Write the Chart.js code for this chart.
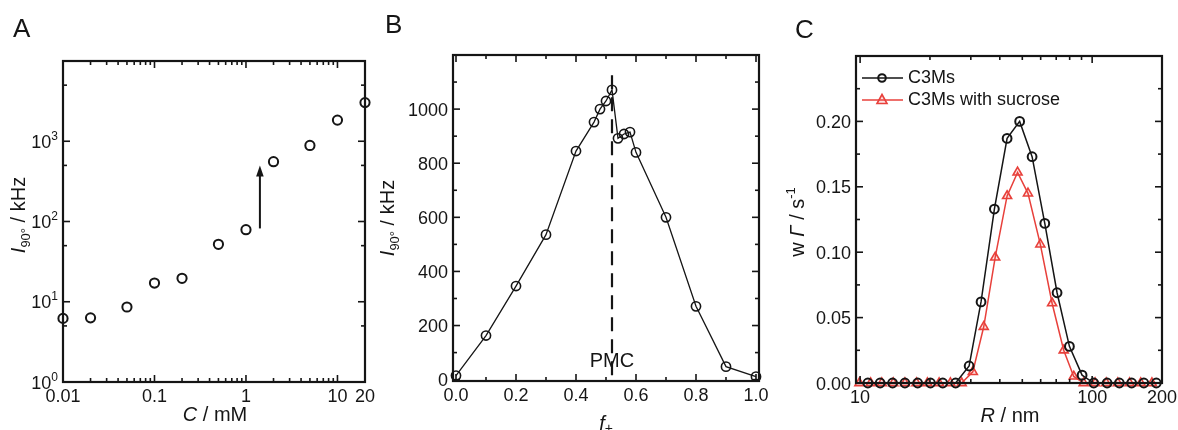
<!DOCTYPE html>
<html>
<head>
<meta charset="utf-8">
<script src="https://cdn.jsdelivr.net/npm/chart.js@4.4.0/dist/chart.umd.min.js"></script>
<style>
  html, body { margin: 0; padding: 0; background: #fff; }
  #wrap { position: relative; width: 1178px; height: 430px; overflow: hidden; }
  #wrap canvas { position: absolute; top: 0; }
</style>
</head>
<body>
<div id="wrap">
  <canvas id="chartA" width="380" height="430" style="left:0"></canvas>
  <canvas id="chartB" width="390" height="430" style="left:380px"></canvas>
  <canvas id="chartC" width="408" height="430" style="left:770px"></canvas>
</div>
<script>
// ---- panel A : scattering intensity vs concentration (log-log)
const concA = [0.01, 0.02, 0.05, 0.1, 0.2, 0.5, 1, 2, 5, 10, 20];
const intensityA = [6.2, 6.3, 8.6, 17.1, 19.6, 52, 79, 556, 887, 1834, 3030];
const xTickValsA = [0.01, 0.1, 1, 10, 20];
const xTickLabelsA = ['0.01', '0.1', '1', '10', '20'];
const yTickValsA = [1, 10, 100, 1000];
const yTickExpA = ['0', '1', '2', '3'];

// ---- panel B : intensity vs f+
const fracB = [0, 0.1, 0.2, 0.3, 0.4, 0.46, 0.48, 0.5, 0.52, 0.54, 0.56, 0.58, 0.6, 0.7, 0.8, 0.9, 1.0];
const intensityB = [15, 163, 346, 536, 845, 952, 1000, 1030, 1071, 892, 908, 915, 840, 600, 271, 48, 11];
const pmcB = 0.52;
const xTickLabelsB = ['0.0', '0.2', '0.4', '0.6', '0.8', '1.0'];
const yTickLabelsB = ['0', '200', '400', '600', '800', '1000'];

// ---- panel C : size distributions
const radiusC3M = [10.8, 12.2, 13.8, 15.6, 17.7, 20.1, 22.7, 25.8, 29.5, 33.2, 37.9, 43.0,
                   48.7, 55.1, 62.5, 70.6, 79.8, 90.5, 101.6, 116, 131, 148, 167, 189];
const weightC3M = [0, 0, 0, 0, 0, 0, 0, 0, 0.013, 0.062, 0.133, 0.187,
                   0.200, 0.173, 0.122, 0.069, 0.028, 0.006, 0, 0, 0, 0, 0, 0];
const radiusSucrose = [9.93, 11.1, 12.4, 13.9, 15.6, 17.5, 19.5, 21.9, 24.5, 27.4, 30.6, 34.1,
                       38.2, 43.0, 47.7, 52.9, 59.8, 67.2, 75.4, 83.3, 91.9, 103, 115, 129, 145, 162, 181];
const weightSucrose = [0, 0, 0, 0, 0, 0, 0, 0, 0, 0, 0.0085, 0.043,
                       0.096, 0.143, 0.161, 0.145, 0.106, 0.061, 0.025, 0.005, 0, 0, 0, 0, 0, 0, 0];
const xTickValsC = [10, 100, 200];
const xTickLabelsC = ['10', '100', '200'];
const yTickLabelsC = ['0.00', '0.05', '0.10', '0.15', '0.20'];
const seriesNamesC = ['C3Ms', 'C3Ms with sucrose'];

const INK = '#151515';
const RED = '#e8403b';
const FAM = '"Liberation Sans", Arial, Helvetica, sans-serif';
const fnt = (size, style) => (style ? style + ' ' : '') + size + 'px ' + FAM;
const TICK = fnt(18);

const pts = (xs, ys) => xs.map((x, i) => ({ x: x, y: ys[i] }));

function rich(ctx, parts, x, y, align) {
  let w = 0;
  parts.forEach(p => { ctx.font = p.f; w += ctx.measureText(p.t).width; });
  let cx = align === 'center' ? x - w / 2 : align === 'right' ? x - w : x;
  parts.forEach(p => {
    ctx.font = p.f;
    ctx.fillText(p.t, cx, y + (p.dy || 0));
    cx += ctx.measureText(p.t).width;
  });
}

function minorLog(decades, extra) {
  const out = [];
  decades.forEach(d => { for (let k = 2; k <= 9; k++) out.push(k * d); });
  return out.concat(extra || []);
}
function steps(from, to, step) {
  const out = [];
  for (let v = from; v <= to + 1e-9; v += step) out.push(+v.toFixed(4));
  return out;
}

function makeFrame(cfg) {
  return {
    id: 'frame' + cfg.name,
    afterDatasetsDraw(chart) {
      const ctx = chart.ctx, a = chart.chartArea, sx = chart.scales.x, sy = chart.scales.y;
      ctx.save();
      ctx.strokeStyle = INK;
      ctx.fillStyle = INK;
      const seg = (x1, y1, x2, y2) => { ctx.beginPath(); ctx.moveTo(x1, y1); ctx.lineTo(x2, y2); ctx.stroke(); };
      ctx.lineWidth = 1.6;
      const xt = (vals, len) => vals.forEach(v => {
        const p = sx.getPixelForValue(v);
        seg(p, a.bottom, p, a.bottom - len); seg(p, a.top, p, a.top + len);
      });
      const yt = (vals, len) => vals.forEach(v => {
        const p = sy.getPixelForValue(v);
        seg(a.left, p, a.left + len, p); seg(a.right, p, a.right - len, p);
      });
      xt(cfg.xMajor, 7); xt(cfg.xMinor, 4);
      yt(cfg.yMajor, 7); yt(cfg.yMinor, 4);
      ctx.lineWidth = 2.2;
      ctx.strokeRect(a.left, a.top, a.right - a.left, a.bottom - a.top);

      ctx.textBaseline = 'alphabetic';
      cfg.xLabels.forEach((parts, i) => rich(ctx, parts, sx.getPixelForValue(cfg.xLabelAt[i]), a.bottom + 20, 'center'));
      cfg.yLabels.forEach((parts, i) => rich(ctx, parts, a.left - 5, sy.getPixelForValue(cfg.yLabelAt[i]) + 6.5, 'right'));

      rich(ctx, cfg.xTitle.parts, cfg.xTitle.x, cfg.xTitle.y, 'center');
      ctx.save();
      ctx.translate(cfg.yTitle.x, cfg.yTitle.y);
      ctx.rotate(-Math.PI / 2);
      rich(ctx, cfg.yTitle.parts, 0, 0, 'center');
      ctx.restore();
      rich(ctx, [{ t: cfg.letter.t, f: fnt(26) }], cfg.letter.x, cfg.letter.y, 'left');

      if (cfg.extra) cfg.extra(chart, ctx, seg);
      ctx.restore();
    }
  };
}

const baseOpts = (padding, yWidth, xHeight) => ({
  responsive: false,
  animation: false,
  events: [],
  layout: { padding: padding },
  plugins: { legend: { display: false }, tooltip: { enabled: false } },
  scales: {}
});
const hiddenAxis = (extra, fit) => Object.assign({
  ticks: { display: false }, grid: { display: false }, border: { display: false },
  afterFit: fit
}, extra);

// ---------- Chart A
const optsA = baseOpts({ top: 61, right: 15, left: 0, bottom: 0 });
optsA.scales.x = hiddenAxis({ type: 'logarithmic', min: 0.01, max: 20 }, s => { s.height = 48; });
optsA.scales.y = hiddenAxis({ type: 'logarithmic', min: 1, max: 10000 }, s => { s.width = 63; });
new Chart(document.getElementById('chartA'), {
  type: 'scatter',
  data: { datasets: [{
    data: pts(concA, intensityA), showLine: false, clip: false,
    pointStyle: 'circle', pointRadius: 4.6, pointBorderWidth: 2,
    pointBorderColor: INK, pointBackgroundColor: 'rgba(0,0,0,0)'
  }] },
  options: optsA,
  plugins: [makeFrame({
    name: 'A',
    xMajor: [0.01, 0.1, 1, 10], xMinor: minorLog([0.01, 0.1, 1], [20]),
    yMajor: [1, 10, 100, 1000, 10000], yMinor: [5, 50, 500, 5000],
    xLabels: xTickLabelsA.map(t => [{ t: t, f: TICK }]), xLabelAt: xTickValsA,
    yLabels: yTickExpA.map(e => [{ t: '10', f: TICK }, { t: e, f: fnt(12), dy: -8 }]), yLabelAt: yTickValsA,
    xTitle: { parts: [{ t: 'C', f: fnt(20, 'italic') }, { t: ' / mM', f: fnt(20) }], x: 215, y: 421 },
    yTitle: { parts: [{ t: 'I', f: fnt(20, 'italic') }, { t: '90°', f: fnt(13), dy: 5 }, { t: ' / kHz', f: fnt(20) }], x: 25, y: 215 },
    letter: { t: 'A', x: 13, y: 37 },
    extra(chart, ctx, seg) {
      const sx = chart.scales.x, sy = chart.scales.y;
      const ax = sx.getPixelForValue(1.42), y0 = sy.getPixelForValue(82), y1 = sy.getPixelForValue(500);
      ctx.lineWidth = 2;
      seg(ax, y0, ax, y1 + 8);
      ctx.beginPath();
      ctx.moveTo(ax, y1); ctx.lineTo(ax - 3.8, y1 + 11); ctx.lineTo(ax + 3.8, y1 + 11); ctx.closePath();
      ctx.fill();
    }
  })]
});

// ---------- Chart B
const optsB = baseOpts({ top: 55, right: 11, left: 0, bottom: 0 });
optsB.scales.x = hiddenAxis({ type: 'linear', min: -0.01, max: 1.01 }, s => { s.height = 49; });
optsB.scales.y = hiddenAxis({ type: 'linear', min: -5, max: 1200 }, s => { s.width = 73; });
new Chart(document.getElementById('chartB'), {
  type: 'line',
  data: { datasets: [{
    data: pts(fracB, intensityB), clip: false, tension: 0,
    borderColor: INK, borderWidth: 1.3,
    pointStyle: 'circle', pointRadius: 4.6, pointBorderWidth: 1.6,
    pointBorderColor: INK, pointBackgroundColor: 'rgba(0,0,0,0)'
  }] },
  options: optsB,
  plugins: [makeFrame({
    name: 'B',
    xMajor: steps(0, 1, 0.2), xMinor: steps(0.1, 0.9, 0.2),
    yMajor: steps(0, 1200, 200), yMinor: steps(100, 1100, 200),
    xLabels: xTickLabelsB.map(t => [{ t: t, f: TICK }]), xLabelAt: xTickLabelsB.map(Number),
    yLabels: yTickLabelsB.map(t => [{ t: t, f: TICK }]), yLabelAt: yTickLabelsB.map(Number),
    xTitle: { parts: [{ t: 'f', f: fnt(20, 'italic') }, { t: '+', f: fnt(14), dy: 3 }], x: 226, y: 430 },
    yTitle: { parts: [{ t: 'I', f: fnt(20, 'italic') }, { t: '90°', f: fnt(13), dy: 5 }, { t: ' / kHz', f: fnt(20) }], x: 14, y: 218 },
    letter: { t: 'B', x: 5, y: 33 },
    extra(chart, ctx, seg) {
      const sx = chart.scales.x, sy = chart.scales.y;
      const px = sx.getPixelForValue(pmcB);
      ctx.lineWidth = 2.2;
      ctx.setLineDash([14, 8]);
      seg(px, sy.getPixelForValue(1125), px, sy.getPixelForValue(0));
      ctx.setLineDash([]);
      ctx.textBaseline = 'middle';
      rich(ctx, [{ t: 'PMC', f: fnt(20) }], px, sy.getPixelForValue(68), 'center');
    }
  })]
});

// ---------- Chart C
const optsC = baseOpts({ top: 56, right: 16, left: 0, bottom: 0 });
optsC.scales.x = hiddenAxis({ type: 'logarithmic', min: 9.6, max: 200 }, s => { s.height = 47; });
optsC.scales.y = hiddenAxis({ type: 'linear', min: 0, max: 0.25 }, s => { s.width = 86; });
new Chart(document.getElementById('chartC'), {
  type: 'line',
  data: { datasets: [
    { label: seriesNamesC[0], data: pts(radiusC3M, weightC3M), clip: false, tension: 0,
      borderColor: INK, borderWidth: 1.5, pointStyle: 'circle', pointRadius: 4.4, pointBorderWidth: 2,
      pointBorderColor: INK, pointBackgroundColor: 'rgba(0,0,0,0)' },
    { label: seriesNamesC[1], data: pts(radiusSucrose, weightSucrose), clip: false, tension: 0,
      borderColor: RED, borderWidth: 1.5, pointStyle: 'triangle', pointRadius: 5.2, pointBorderWidth: 1.6,
      pointBorderColor: RED, pointBackgroundColor: 'rgba(232,64,59,0.15)' }
  ] },
  options: optsC,
  plugins: [makeFrame({
    name: 'C',
    xMajor: [10, 100], xMinor: minorLog([10], [200]),
    yMajor: steps(0, 0.25, 0.05), yMinor: steps(0.025, 0.225, 0.05),
    xLabels: xTickLabelsC.map(t => [{ t: t, f: TICK }]), xLabelAt: xTickValsC,
    yLabels: yTickLabelsC.map(t => [{ t: t, f: TICK }]), yLabelAt: yTickLabelsC.map(Number),
    xTitle: { parts: [{ t: 'R', f: fnt(20, 'italic') }, { t: ' / nm', f: fnt(20) }], x: 240, y: 422 },
    yTitle: { parts: [{ t: 'w ', f: fnt(20) }, { t: 'Γ', f: fnt(20, 'italic') }, { t: ' / s', f: fnt(20) }, { t: '-1', f: fnt(13), dy: -9 }], x: 34, y: 222 },
    letter: { t: 'C', x: 25, y: 38 },
    extra(chart, ctx, seg) {
      const rows = [78, 100];
      chart.data.datasets.forEach((ds, i) => {
        const y = rows[i];
        ctx.strokeStyle = ds.borderColor;
        ctx.lineWidth = 1.5;
        seg(92, y, 133, y);
        ctx.lineWidth = ds.pointBorderWidth;
        ctx.fillStyle = ds.pointBackgroundColor;
        ctx.beginPath();
        if (ds.pointStyle === 'circle') {
          ctx.arc(112, y, 3.8, 0, Math.PI * 2);
        } else {
          ctx.moveTo(112, y - 5.5); ctx.lineTo(117, y + 3.5); ctx.lineTo(107, y + 3.5); ctx.closePath();
        }
        ctx.fill(); ctx.stroke();
        ctx.fillStyle = INK;
        ctx.textBaseline = 'middle';
        rich(ctx, [{ t: ds.label, f: fnt(18) }], 138, y, 'left');
      });
    }
  })]
});
</script>
</body>
</html>
